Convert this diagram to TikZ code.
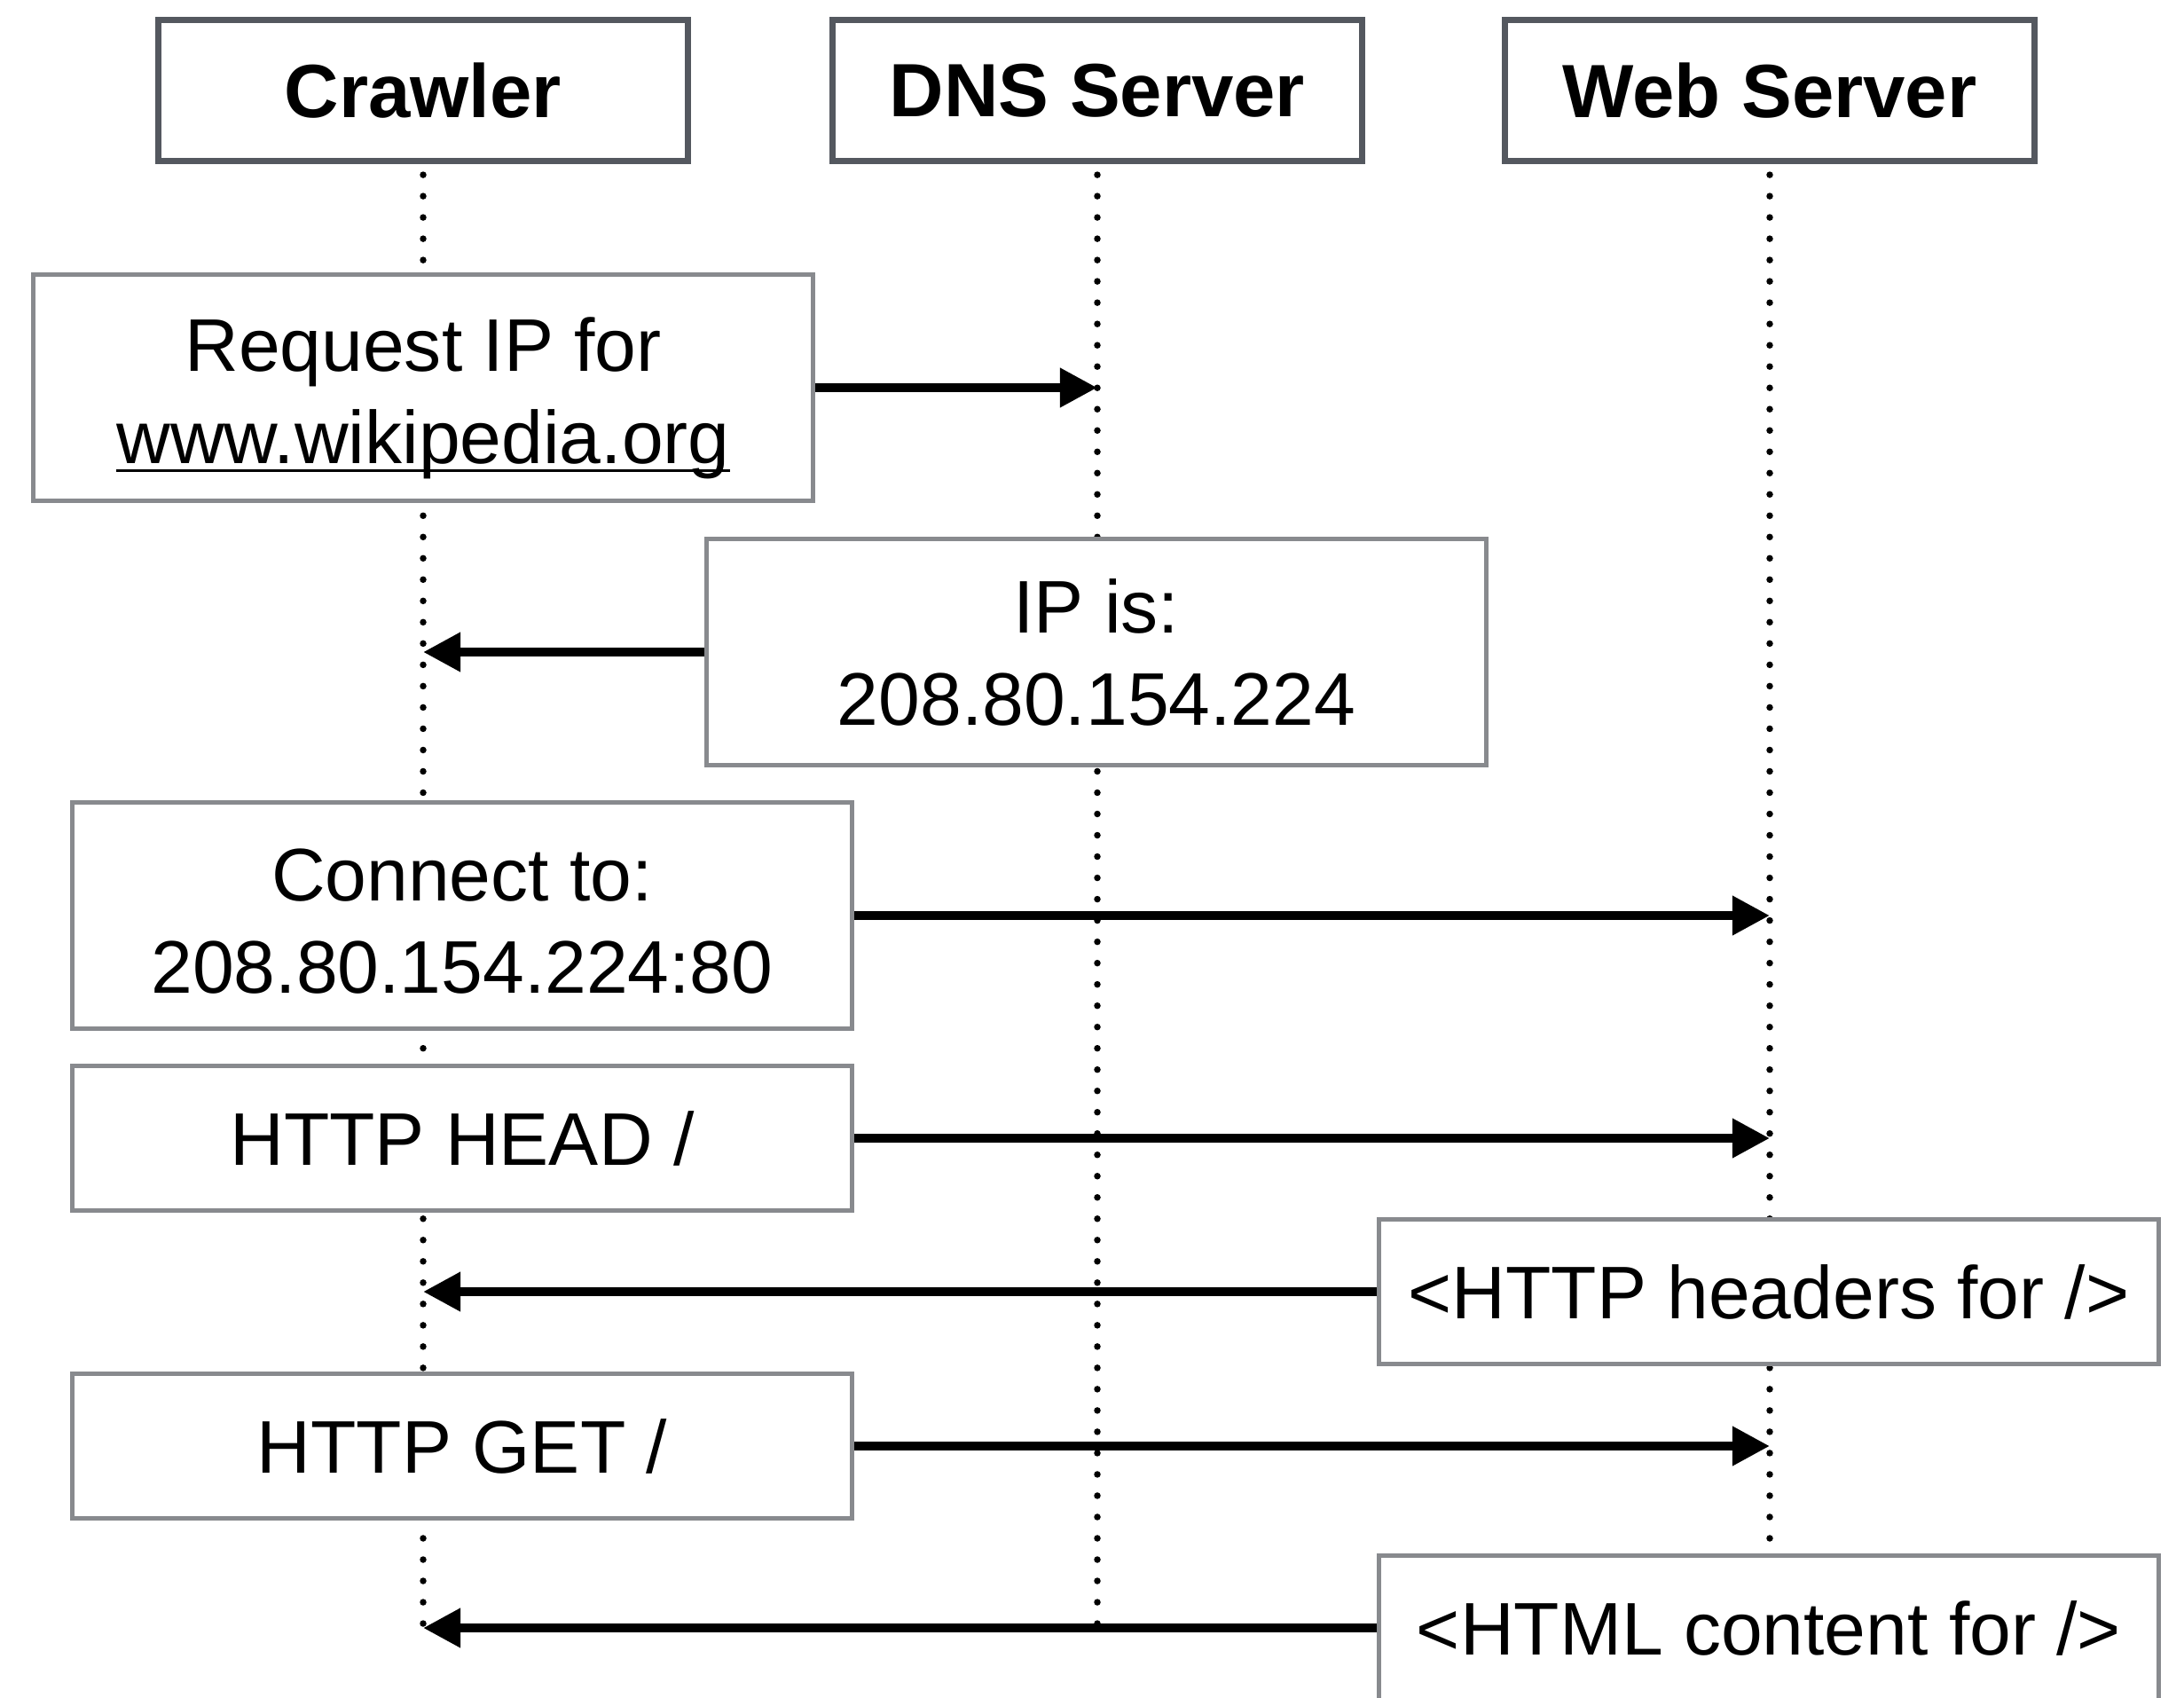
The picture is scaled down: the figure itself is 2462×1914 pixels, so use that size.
\documentclass[tikz,border=0pt]{standalone}
\usepackage{fontspec}
\setmainfont{Liberation Sans}
\usetikzlibrary{arrows.meta,backgrounds}
\definecolor{hdrgray}{RGB}{84,88,95}
\definecolor{msggray}{RGB}{136,138,142}
% underlined link text
\newcommand\linktext[1]{\setbox0\hbox{#1}\rlap{\rule[-0.12em]{\wd0}{0.045em}}\box0}

\begin{document}
\begin{tikzpicture}[x=0.01cm,y=-0.01cm,
  actor/.style={draw=hdrgray, line width=0.07cm, fill=white,
    minimum width=5.96cm, minimum height=1.59cm, inner sep=0pt,
    font=\fontsize{24.2pt}{29.5pt}\selectfont\bfseries},
  msgbox/.style={draw=msggray, line width=0.05cm, fill=white,
    minimum width=8.78cm, inner sep=0pt, align=center,
    font=\fontsize{23.9pt}{29.6pt}\selectfont},
  tallbox/.style={minimum height=2.54cm},
  shortbox/.style={minimum height=1.62cm},
  lifeline/.style={line width=0.075cm, line cap=round, dash pattern=on 0pt off 0.24cm},
  msg/.style={line width=0.1cm, -{Triangle[length=0.42cm,width=0.42cm]}}
]
\useasboundingbox (0,0) rectangle (2462,1914);

% participants
\node[actor] (crawler) at (477,102) {Crawler};
\node[actor] (dns) at (1237,102) {DNS Server};
\node[actor] (web) at (1995,102) {Web Server};

% message boxes
\node[msgbox,tallbox] (req) at (477,437) {\rule{0pt}{1.0em}Request IP for\\\linktext{www.wikipedia.org}};
\node[msgbox,tallbox] (ip) at (1236,735) {IP is:\\208.80.154.224};
\node[msgbox,tallbox] (conn) at (521,1032) {\rule{0pt}{0.85em}Connect to:\\208.80.154.224:80};
\node[msgbox,shortbox] (head) at (521,1283) {HTTP HEAD /};
\node[msgbox,shortbox] (hdrs) at (1994,1456) {<HTTP headers for />};
\node[msgbox,shortbox] (get) at (521,1630) {HTTP GET /};
\node[msgbox,shortbox] (html) at (1994,1835) {<HTML content for />};

% lifelines behind the boxes
\begin{scope}[on background layer]
  \draw[lifeline] ([yshift=-0.12cm]crawler.south) -- (crawler |- html);
  \draw[lifeline] ([yshift=-0.12cm]dns.south) -- (dns |- html);
  \draw[lifeline] ([yshift=-0.12cm]web.south) -- (web |- html.north);
\end{scope}

% messages
\draw[msg] (req.east) -- (req.east -| dns);
\draw[msg] (ip.west) -- (ip.west -| crawler);
\draw[msg] (conn.east) -- (conn.east -| web);
\draw[msg] (head.east) -- (head.east -| web);
\draw[msg] (hdrs.west) -- (hdrs.west -| crawler);
\draw[msg] (get.east) -- (get.east -| web);
\draw[msg] (html.west) -- (html.west -| crawler);
\end{tikzpicture}
\end{document}
